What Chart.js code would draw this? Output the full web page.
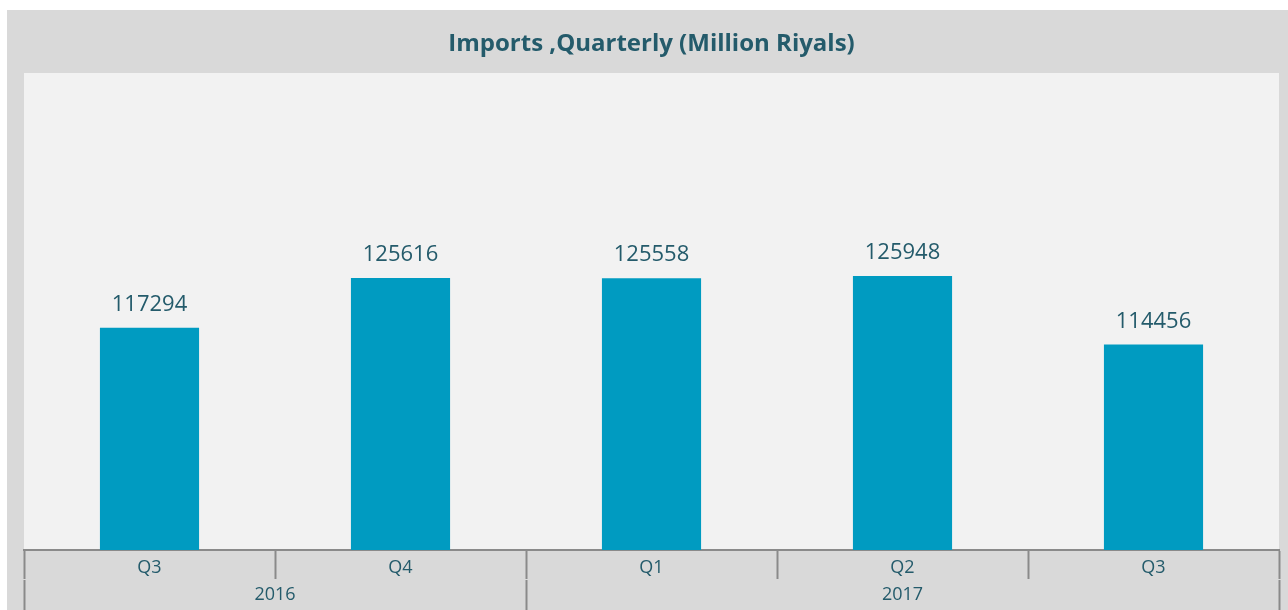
<!DOCTYPE html>
<html>
<head>
<meta charset="utf-8">
<script src="https://cdn.jsdelivr.net/npm/chart.js@4"></script>
<style>
    body { margin: 0; background: #ffffff; overflow: hidden; }
    canvas { display: block; }
</style>
</head>
<body>
<canvas id="importsChart" width="1288" height="610"></canvas>
<script>
const quarters = ['Q3', 'Q4', 'Q1', 'Q2', 'Q3'];
const imports = [117294, 125616, 125558, 125948, 114456];
const years = ['2016', '2017'];
const yearCounts = [2, 3];

const textColor = '#245b6b';
const barColor = '#009bc1';
const lineColor = '#8a8a8a';

// year group edges and centres, in category units
const yearEdges = [-0.5];
const yearCentres = [];
yearCounts.forEach(n => {
    const start = yearEdges[yearEdges.length - 1];
    yearCentres.push(start + n / 2);
    yearEdges.push(start + n);
});

// backgrounds: outer grey panel + light plot area
const panelBg = {
    id: 'panelBg',
    beforeDraw(chart) {
        const { ctx, chartArea } = chart;
        ctx.save();
        ctx.fillStyle = '#d9d9d9';
        ctx.fillRect(7, 10, chart.width - 7, chart.height - 10);
        ctx.fillStyle = '#f2f2f2';
        ctx.fillRect(chartArea.left, chartArea.top, chartArea.right - chartArea.left, chartArea.bottom - chartArea.top);
        ctx.restore();
    }
};

// value labels above the bars
const valueLabels = {
    id: 'valueLabels',
    afterDatasetsDraw(chart) {
        const { ctx } = chart;
        const meta = chart.getDatasetMeta(0);
        ctx.save();
        ctx.font = '22px "Open Sans"';
        ctx.fillStyle = textColor;
        ctx.textAlign = 'center';
        ctx.textBaseline = 'alphabetic';
        meta.data.forEach((bar, i) => {
            ctx.fillText(String(chart.data.datasets[0].data[i]), bar.x, bar.y - 17);
        });
        ctx.restore();
    }
};

new Chart('importsChart', {
    type: 'bar',
    data: {
        labels: quarters,
        datasets: [{
            data: imports,
            backgroundColor: barColor,
            borderWidth: 0,
            barPercentage: 0.395,
            categoryPercentage: 1
        }]
    },
    options: {
        responsive: false,
        animation: false,
        devicePixelRatio: 1,
        layout: { padding: { top: 10, left: 24, right: 9, bottom: 0 } },
        plugins: {
            legend: { display: false },
            tooltip: { enabled: false },
            title: {
                display: true,
                text: 'Imports ,Quarterly (Million Riyals)',
                color: textColor,
                font: { family: '"Open Sans"', size: 24, weight: 'bold', lineHeight: 1.2 },
                padding: { top: 19.6, bottom: 14.6 }
            }
        },
        scales: {
            y: {
                display: false,
                min: 80000,
                max: 160000
            },
            x: {
                position: 'bottom',
                offset: true,
                border: { display: true, color: lineColor, width: 2 },
                grid: {
                    offset: true,
                    drawOnChartArea: false,
                    drawTicks: true,
                    tickLength: 29,
                    tickWidth: 2,
                    tickColor: lineColor
                },
                ticks: {
                    color: textColor,
                    font: { family: '"Open Sans"', size: 18, lineHeight: 1.2 },
                    padding: -21.8,
                    maxRotation: 0,
                    autoSkip: false
                },
                afterFit(scale) { scale.height = 30; }
            },
            years: {
                type: 'linear',
                position: 'bottom',
                offset: false,
                min: -0.5,
                max: quarters.length - 0.5,
                border: { display: false, color: 'rgba(0,0,0,0)', width: 0 },
                grid: {
                    offset: false,
                    color: 'rgba(0,0,0,0)',
                    drawOnChartArea: false,
                    drawTicks: true,
                    tickLength: 31,
                    tickWidth: 2,
                    tickColor: (c) => (c.tick && yearEdges.includes(c.tick.value)) ? lineColor : 'rgba(0,0,0,0)'
                },
                afterBuildTicks(scale) {
                    scale.ticks = yearEdges.concat(yearCentres).sort((a, b) => a - b).map(v => ({ value: v }));
                },
                ticks: {
                    color: textColor,
                    font: { family: '"Open Sans"', size: 18, lineHeight: 1.2 },
                    padding: -26.8,
                    maxRotation: 0,
                    autoSkip: false,
                    callback: (value) => {
                        const i = yearCentres.indexOf(value);
                        return i >= 0 ? years[i] : '';
                    }
                },
                afterFit(scale) { scale.height = 30; }
            }
        }
    },
    plugins: [panelBg, valueLabels]
});
</script>
</body>
</html>
